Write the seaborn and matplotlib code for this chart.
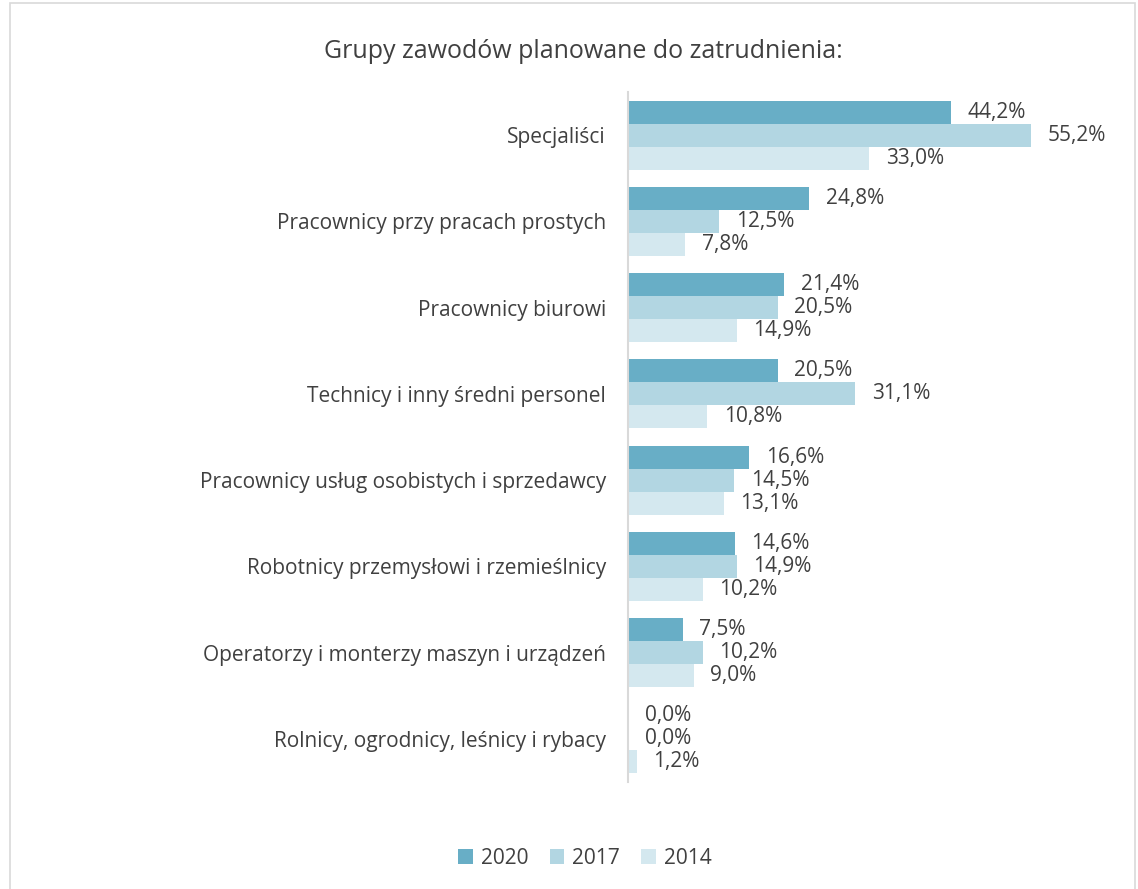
import matplotlib
matplotlib.use("Agg")
import matplotlib.pyplot as plt
import seaborn as sns
import pandas as pd
from matplotlib.patches import Rectangle

categories = [
    "Specjaliści",
    "Pracownicy przy pracach prostych",
    "Pracownicy biurowi",
    "Technicy i inny średni personel",
    "Pracownicy usług osobistych i sprzedawcy",
    "Robotnicy przemysłowi i rzemieślnicy",
    "Operatorzy i monterzy maszyn i urządzeń",
    "Rolnicy, ogrodnicy, leśnicy i rybacy",
]
years = ["2020", "2017", "2014"]
v2020 = [44.2, 24.8, 21.4, 20.5, 16.6, 14.6, 7.5, 0.0]
v2017 = [55.2, 12.5, 20.5, 31.1, 14.5, 14.9, 10.2, 0.0]
v2014 = [33.0, 7.8, 14.9, 10.8, 13.1, 10.2, 9.0, 1.2]
colors = ["#68AEC6", "#B2D6E2", "#D4E8EF"]

rows = []
for y, vals in zip(years, [v2020, v2017, v2014]):
    for c, v in zip(categories, vals):
        rows.append({"cat": c, "year": y, "val": v})
df = pd.DataFrame(rows)

sns.set_theme(style="white")
plt.rcParams['font.family'] = ['Open Sans', 'DejaVu Sans']
txt = "#404040"

fig = plt.figure(figsize=(11.38, 8.89), dpi=100)
ax = fig.add_axes([628/1138, 1-782/889, (1100-628)/1138, (782-92)/889])

sns.barplot(data=df, y="cat", x="val", hue="year", orient="h",
            palette=colors, hue_order=years, order=categories,
            width=0.8, ax=ax, legend=True, saturation=1, linewidth=0)

for cont in ax.containers:
    labels = [f"{b.get_width():.1f}".replace(".", ",") + "%" for b in cont]
    ax.bar_label(cont, labels=labels, padding=12, fontsize=15, color=txt)

ax.set_xlim(0, 64.6)
ax.set_ylim(7.5, -0.5)
ax.set_xlabel("")
ax.set_ylabel("")
ax.set_xticks([])
ax.tick_params(axis="y", length=0, pad=16, labelsize=15, labelcolor=txt)
for s in ["top", "right", "bottom"]:
    ax.spines[s].set_visible(False)
ax.spines["left"].set_color("#D9D9D9")
ax.spines["left"].set_linewidth(1.5)

leg = ax.get_legend()
handles, labs = ax.get_legend_handles_labels()
leg.remove()
fig.legend(handles, labs, loc="center", bbox_to_anchor=(585/1138, 1-858/889),
           ncol=3, frameon=False, fontsize=15, handlelength=0.7, handleheight=0.7,
           columnspacing=1.0, handletextpad=0.4, labelcolor=txt)

fig.text(583/1138, 1-52/889, "Grupy zawodów planowane do zatrudnienia:",
         ha="center", va="center", fontsize=18, color=txt)

fig.patches.append(Rectangle((10/1138, -0.01), (1135-10)/1138, 1-3/889 + 0.01,
                             transform=fig.transFigure, fill=False,
                             edgecolor="#D9D9D9", linewidth=1.2))

fig.savefig("out.png", dpi=100)
